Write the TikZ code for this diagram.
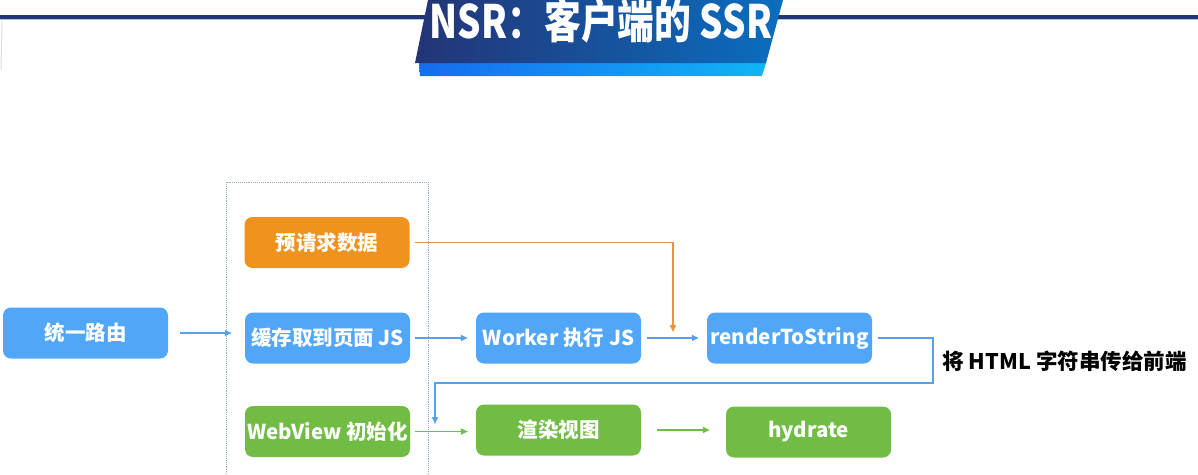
\documentclass[tikz,border=0pt]{standalone}
\usepackage{fontspec}
\usetikzlibrary{arrows.meta,shapes.geometric}
\newfontfamily\cjk{Noto Sans CJK SC}
\definecolor{boxblue}{RGB}{82,166,248}
\definecolor{boxorange}{RGB}{240,146,30}
\definecolor{boxgreen}{RGB}{112,188,68}
\definecolor{lineblue}{RGB}{88,160,232}
\definecolor{lineorange}{RGB}{232,148,58}
\definecolor{navy}{RGB}{36,52,118}
\definecolor{bannerright}{RGB}{10,110,192}
\definecolor{barleft}{RGB}{22,108,240}
\definecolor{barright}{RGB}{16,180,245}
\definecolor{framegray}{RGB}{140,175,210}
\tikzset{
  stepbox/.style={rounded corners=8pt, minimum width=165pt, minimum height=51pt,
    inner sep=0pt, text=white, font=\cjk\bfseries\fontsize{20.5}{24}\selectfont},
  bluebox/.style={stepbox, fill=boxblue},
  orangebox/.style={stepbox, fill=boxorange},
  greenbox/.style={stepbox, fill=boxgreen},
  flow/.style={line width=1.4pt, -{Triangle[length=7pt,width=6pt]}},
  blueflow/.style={flow, draw=lineblue},
  greenflow/.style={flow, draw=boxgreen},
  orangeflow/.style={flow, draw=lineorange, line width=1.8pt},
}
\begin{document}
\begin{tikzpicture}[x=1pt,y=-1pt]
\useasboundingbox (0,0) rectangle (1198,474);
\fill[white] (0,0) rectangle (1198,474);

% header rule
\fill[navy] (0,15) rectangle (1198,18.5);
\fill[lineblue!60] (0,18.5) rectangle (1198,20);
\draw[black!12, line width=1pt] (2,20) -- (1,70);

% title banner
\shade[left color=barleft, right color=barright] (419,63) -- (766,63) -- (762,76) -- (420,76) -- cycle;
\shade[left color=navy, right color=bannerright] (428,0) -- (783,0) -- (766,63) -- (415,63) -- cycle;
\node[text=white, font=\cjk\bfseries\fontsize{46}{50}\selectfont] (title) at (601,21)
  {\scalebox{0.8}[1]{NSR：客户端的 SSR}};

% grouping frame
\draw[framegray, densely dotted, line width=0.9pt] (226,474) -- (226,182) -- (428,182) -- (428,474);

% steps
\node[orangebox] (pre)    at (327,242.5) {预请求数据};
\node[bluebox]   (route)  at (85.5,333)  {统一路由};
\node[bluebox]   (cache)  at (327.5,338) {缓存取到页面 JS};
\node[bluebox]   (worker) at (558.5,338) {Worker 执行 JS};
\node[bluebox]   (rts)    at (789.5,338) {renderToString};
\node[greenbox]  (wv)     at (327.5,431.5) {WebView 初始化};
\node[greenbox]  (render) at (558.5,430) {渲染视图};
\node[greenbox]  (hyd)    at (808.5,432) {hydrate};

\node[font=\cjk\bfseries\fontsize{21.5}{25}\selectfont, anchor=west] (note) at (939,361)
  {将 HTML 字符串传给前端};

% connectors
\coordinate (orangeEnd) at (673,332);
\coordinate (turnR) at (933,383);
\coordinate (dropIn) at (435,424);

\draw[blueflow, shorten <=12pt, shorten >=13pt] (route.east) -- (route.east -| cache.west);
\draw[blueflow, shorten <=5pt, shorten >=8pt] (cache.east) -- (worker.west);
\draw[blueflow, shorten <=6pt, shorten >=8pt] (worker.east) -- (rts.west);
\draw[orangeflow, shorten <=5pt] (pre.east) -| (orangeEnd);
\draw[blueflow, shorten <=6pt] (rts.east) -- (rts.east -| turnR) -- (turnR) -- (turnR -| dropIn) -- (dropIn);
\draw[greenflow, shorten <=5pt, shorten >=8pt] (wv.east) -- (wv.east -| render.west);
\draw[greenflow, shorten <=16pt, shorten >=16pt] (render.east) -- (render.east -| hyd.west);
\end{tikzpicture}
\end{document}
